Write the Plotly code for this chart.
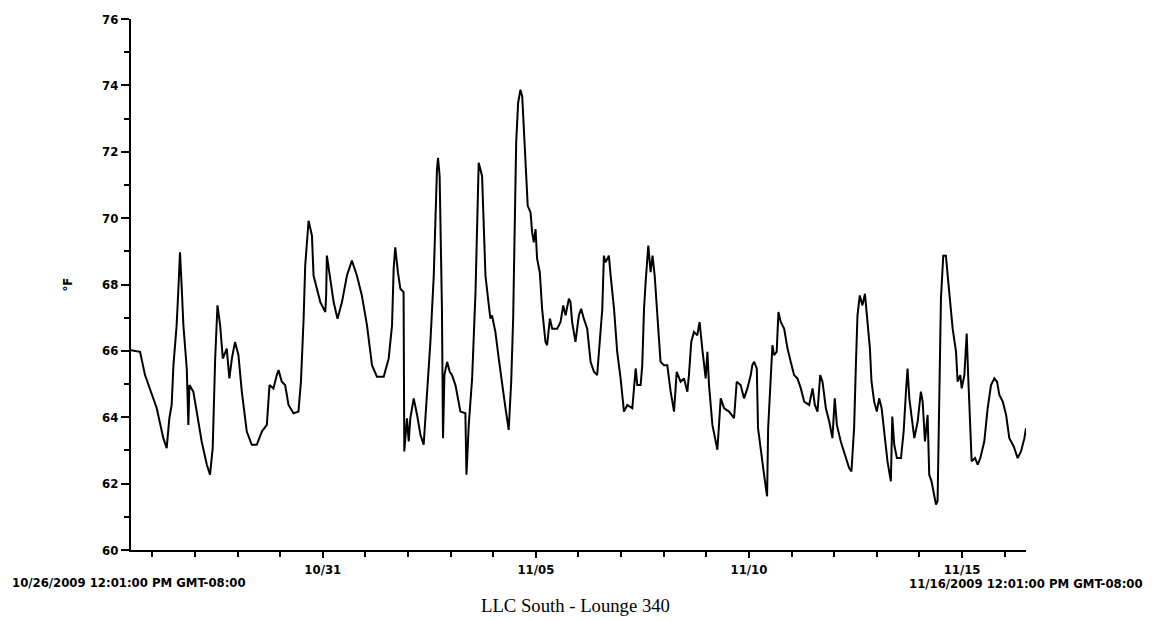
import pandas as pd
import plotly.graph_objects as go

# Time of each reading, in hours after 10/26/2009 12:01 PM
hours = [
    0, 5.1, 7.9, 10.7, 14.5, 18.2, 20.1, 21.6, 22.9, 23.9,
    25.7, 26.7, 27.6, 28.6, 29.5, 31.4, 32.3, 32.9, 35.1, 37.0,
    39.8, 42.7, 44.5, 46.0, 47.4, 48.7, 50.2, 51.7, 53.9, 55.4,
    56.8, 58.6, 60.5, 62.4, 65.2, 68.0, 70.8, 73.7, 76.5, 78.0,
    80.2, 82.1, 83.1, 84.9, 86.8, 88.7, 91.5, 94.3, 95.7, 97.2,
    98.1, 100.0, 101.9, 102.8, 104.7, 106.6, 109.4, 109.9, 110.3, 111.8,
    114.1, 116.3, 118.8, 121.6, 124.4, 127.2, 130.0, 132.9, 135.7, 138.5,
    142.3, 145.1, 147.0, 147.9, 148.8, 150.3, 151.7, 153.5, 153.9, 155.4,
    156.4, 157.3, 159.2, 161.1, 163.0, 164.8, 166.7, 168.6, 170.5, 171.4,
    172.3, 172.9, 173.8, 175.1, 175.7, 176.5, 178.0, 179.5, 180.8, 182.7,
    185.5, 188.3, 188.9, 190.2, 192.1, 194.0, 195.8,
    197.7, 198.6, 199.6, 201.5, 202.4, 203.3, 205.2, 207.1, 209.0, 210.9,
    212.7, 214.1, 215.2, 216.1, 216.9, 218.0, 219.3, 220.3, 221.2, 222.1,
    223.4, 225.0, 225.9, 226.8, 227.8, 228.7, 230.2, 231.5, 233.4, 234.3,
    235.9, 237.2, 240.0, 241.9, 243.4, 244.7, 246.6, 247.5, 248.4, 250.3,
    252.2, 253.5, 255.0, 256.9, 258.8, 260.7, 262.5, 264.4, 265.4, 266.3,
    267.2, 268.2, 269.1, 270.1, 272.0, 273.8, 275.7, 277.6, 279.5, 282.3,
    283.2, 284.2, 285.1, 287.0, 287.9, 288.9, 289.8, 291.3, 292.6, 293.7,
    294.9, 296.0, 297.3, 298.2, 300.1, 302.0, 303.9, 305.8, 307.3, 309.5,
    311.4, 313.3, 314.2, 315.5, 317.0, 318.9, 320.2, 321.7, 323.6, 324.6,
    325.5, 327.4, 330.2, 332.1, 334.0, 336.8, 339.6, 341.1, 343.3, 345.2,
    347.1, 349.0,
    349.9, 350.9, 352.4, 353.1, 354.6, 356.5, 357.8, 358.2, 358.8, 360.3,
    361.2, 362.1, 363.6, 364.6, 365.9, 367.8, 369.7, 371.5, 373.4, 375.3,
    377.2, 379.1, 381.9, 383.8, 385.1, 386.6, 388.1, 389.4, 391.3, 393.2,
    395.0, 396.3, 397.5, 399.7, 402.5, 404.4, 405.7, 407.2, 408.2, 409.1,
    410.4, 411.9, 413.3, 414.8, 416.1, 417.0, 418.5, 420.0, 421.3, 422.7,
    424.2, 426.0, 427.9, 428.7, 429.8, 431.3, 433.6, 435.1, 436.4, 437.3,
    438.3, 439.6, 441.1, 443.0, 444.8, 445.8, 447.1, 448.6, 449.5, 450.8,
    452.3, 453.3, 454.2, 455.2, 456.1, 457.4, 458.9, 459.9, 461.4, 462.7,
    464.6, 465.5, 467.0, 467.8, 469.3, 470.6, 471.5, 472.6, 473.4, 475.3,
    476.8, 478.3, 480.5, 482.4, 484.3, 486.2, 487.7, 489.0, 490.9, 492.8,
    494.6, 497.1, 499.3, 501.2, 503.1, 504.0,
]

# Temperature in °F
temps = [
    66.02, 65.97, 65.27, 64.87, 64.27, 63.37, 63.07, 63.97, 64.37, 65.57,
    66.77, 67.87, 68.97, 67.87, 66.77, 65.47, 63.77, 64.97, 64.77, 64.17,
    63.27, 62.57, 62.27, 63.07, 65.77, 67.37, 66.77, 65.77, 66.07, 65.17,
    65.77, 66.27, 65.87, 64.77, 63.57, 63.17, 63.17, 63.57, 63.77, 64.97,
    64.87, 65.27, 65.42, 65.07, 64.97, 64.37, 64.12, 64.17, 65.07, 66.97,
    68.57, 69.92, 69.47, 68.27, 67.87, 67.47, 67.17, 67.67, 68.87, 68.27,
    67.47, 66.97, 67.47, 68.27, 68.72, 68.27, 67.67, 66.77, 65.57, 65.22,
    65.22, 65.77, 66.77, 68.47, 69.12, 68.37, 67.87, 67.77, 62.97, 63.97,
    63.27, 63.97, 64.57, 64.07, 63.47, 63.17, 64.77, 66.27, 68.27, 70.27,
    71.47, 71.82, 71.27, 67.27, 63.37, 65.27, 65.67, 65.37, 65.27, 64.97,
    64.17, 64.12, 62.27, 63.77, 65.17, 67.77, 71.67,
    71.27, 69.97, 68.27, 67.37, 66.97, 67.07, 66.57, 65.77, 64.97, 64.27,
    63.62, 65.07, 66.97, 69.87, 72.27, 73.47, 73.87, 73.67, 72.87, 71.77,
    70.37, 70.17, 69.57, 69.27, 69.67, 68.77, 68.37, 67.27, 66.27, 66.17,
    66.97, 66.67, 66.67, 66.87, 67.37, 67.07, 67.57, 67.47, 66.87, 66.27,
    67.07, 67.27, 66.97, 66.67, 65.67, 65.37, 65.27, 66.67, 67.27, 68.87,
    68.67, 68.77, 68.87, 68.27, 67.27, 65.97, 65.17, 64.17, 64.37, 64.27,
    64.77, 65.47, 64.97, 64.97, 65.57, 67.27, 68.07, 69.17, 68.37, 68.87,
    68.27, 67.27, 66.37, 65.67, 65.57, 65.57, 64.77, 64.17, 65.37, 65.07,
    65.17, 64.77, 65.27, 66.27, 66.57, 66.47, 66.87, 66.07, 65.17, 65.97,
    64.97, 63.77, 63.02, 64.57, 64.27, 64.17, 63.97, 65.07, 64.97, 64.57,
    64.87, 65.27,
    65.57, 65.67, 65.47, 63.67, 62.97, 62.27, 61.77, 61.62, 63.67, 65.47,
    66.17, 65.87, 65.97, 67.17, 66.87, 66.67, 66.07, 65.67, 65.27, 65.17,
    64.87, 64.47, 64.37, 64.87, 64.37, 64.17, 65.27, 65.07, 64.27, 63.87,
    63.37, 64.57, 63.77, 63.27, 62.77, 62.47, 62.37, 63.67, 65.57, 67.07,
    67.67, 67.37, 67.72, 66.87, 66.07, 65.07, 64.47, 64.17, 64.57, 64.27,
    63.47, 62.67, 62.07, 64.02, 63.17, 62.77, 62.77, 63.57, 64.77, 65.47,
    64.57, 64.07, 63.37, 63.87, 64.77, 64.47, 63.27, 64.07, 62.27, 62.07,
    61.57, 61.37, 61.47, 65.27, 67.57, 68.87, 68.87, 68.27, 67.47, 66.67,
    65.97, 65.07, 65.27, 64.87, 65.27, 66.52, 65.17, 63.77, 62.67, 62.77,
    62.57, 62.77, 63.27, 64.27, 64.97, 65.17, 65.07, 64.67, 64.47, 64.07,
    63.37, 63.12, 62.77, 62.97, 63.37, 63.67,
]
assert len(hours) == len(temps)

start_time = "2009-10-26 12:01"
end_time = "2009-11-16 12:01"
major_tick_dates = ["2009-10-31", "2009-11-05", "2009-11-10", "2009-11-15"]
major_tick_labels = ["10/31", "11/05", "11/10", "11/15"]
start_label = "10/26/2009 12:01:00 PM GMT-08:00"
end_label = "11/16/2009 12:01:00 PM GMT-08:00"
chart_title = "LLC South - Lounge 340"
y_title = "°F"

times = pd.Timestamp(start_time) + pd.to_timedelta(hours, unit="h")

TICK_FONT = dict(family="DejaVu Sans Condensed, DejaVu Sans, sans-serif", size=13,
                 color="black", weight="bold")

fig = go.Figure()
fig.add_trace(go.Scatter(x=times, y=temps, mode="lines",
                         line=dict(color="black", width=2),
                         showlegend=False, hoverinfo="skip"))

fig.update_layout(
    width=1157, height=620,
    margin=dict(l=131, r=131, t=16, b=70),
    paper_bgcolor="white", plot_bgcolor="white",
    showlegend=False,
    xaxis=dict(
        type="date", range=[start_time, end_time], autorange=False,
        showline=True, linecolor="black", linewidth=2,
        showgrid=False, zeroline=False,
        ticks="outside", ticklen=6, tickwidth=1.5, tickcolor="black",
        tickmode="array", tickvals=major_tick_dates, ticktext=major_tick_labels,
        tickfont=TICK_FONT,
        minor=dict(ticks="outside", ticklen=5, tickwidth=1.5, tickcolor="black",
                   tickmode="linear", tick0="2009-10-27", dtick=86400000,
                   showgrid=False),
    ),
    yaxis=dict(
        range=[60, 76], autorange=False,
        showline=True, linecolor="black", linewidth=2,
        showgrid=False, zeroline=False,
        ticks="outside", ticklen=8, tickwidth=1.5, tickcolor="black",
        tickmode="linear", tick0=60, dtick=2,
        tickfont=TICK_FONT,
        minor=dict(ticks="outside", ticklen=5, tickwidth=1.5, tickcolor="black",
                   tickmode="linear", tick0=60, dtick=1, showgrid=False),
    ),
    annotations=[
        dict(text=start_label, xref="paper", yref="paper", x=-0.1352, y=-0.0615,
             xanchor="left", yanchor="middle", showarrow=False, font=TICK_FONT),
        dict(text=end_label, xref="paper", yref="paper", x=1.1330, y=-0.0625,
             xanchor="right", yanchor="middle", showarrow=False, font=TICK_FONT),
        dict(text=chart_title, xref="paper", yref="paper", x=0.4961, y=-0.1049,
             xanchor="center", yanchor="middle", showarrow=False,
             font=dict(family="Liberation Serif, serif", size=18.7, color="black")),
        dict(text=y_title, xref="paper", yref="paper", x=-0.0704, y=0.5,
             xanchor="center", yanchor="middle", showarrow=False, textangle=-90,
             font=TICK_FONT),
    ],
)

fig.write_html("out.html", config={"displayModeBar": False},
               post_script="document.body.style.margin='0';document.body.style.overflow='hidden';")
